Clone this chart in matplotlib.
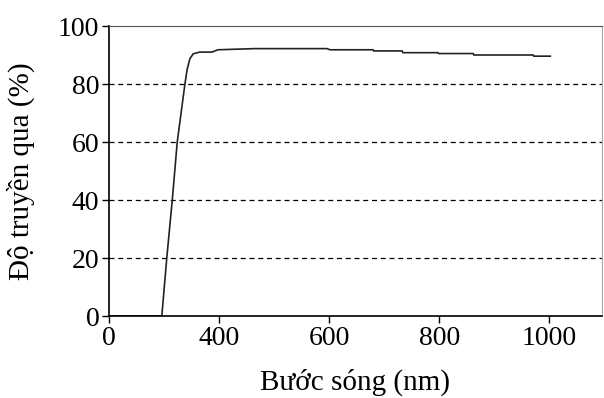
import matplotlib
matplotlib.use("Agg")
import matplotlib.pyplot as plt

# bước sóng (nm) và độ truyền qua (%)
wavelength = [200, 296, 305, 315, 324, 338, 342, 347, 353, 365, 387, 398, 465,
              596, 602, 680, 681, 733, 734, 798, 799, 862, 863, 971, 972, 1002]
transmit = [0, 0, 20, 40, 60, 80, 85, 88.7, 90.4, 91, 91, 91.8, 92.2,
            92.2, 91.8, 91.8, 91.4, 91.4, 90.8, 90.8, 90.5, 90.5, 90.0, 90.0, 89.6, 89.6]

xticks = [200, 400, 600, 800, 1000]
xtick_labels = ["0", "400", "600", "800", "1000"]
yticks = [0, 20, 40, 60, 80, 100]

plt.rcParams['font.family'] = ['Liberation Serif', 'DejaVu Serif']

fig = plt.figure(figsize=(6.04, 3.98), dpi=100)
ax = fig.add_axes([109 / 604, 82 / 398, 493 / 604, 290 / 398])

ax.plot(wavelength, transmit, color="#222222", lw=1.2)

for y in yticks[1:-1]:
    ax.axhline(y, color="black", lw=0.9, ls=(0, (4, 3)), zorder=0)

ax.set_xlim(200, 1096)
ax.set_ylim(0, 100)
ax.set_xticks(xticks)
ax.set_xticklabels(xtick_labels)
ax.set_yticks(yticks)
ax.tick_params(labelsize=20, length=5, width=1, pad=2)
ax.spines['right'].set_color("#aaaaaa")
ax.spines['top'].set_color("#555555")
for s in ['left', 'bottom']:
    ax.spines[s].set_linewidth(1.2)

ax.set_xlabel("Bước sóng (nm)", fontsize=21)
ax.set_ylabel("Độ truyền qua (%)", fontsize=21)
ax.xaxis.set_label_coords(0.5, -0.18)
ax.yaxis.set_label_coords(-0.15, 0.5)

fig.savefig("out.png", dpi=100)
